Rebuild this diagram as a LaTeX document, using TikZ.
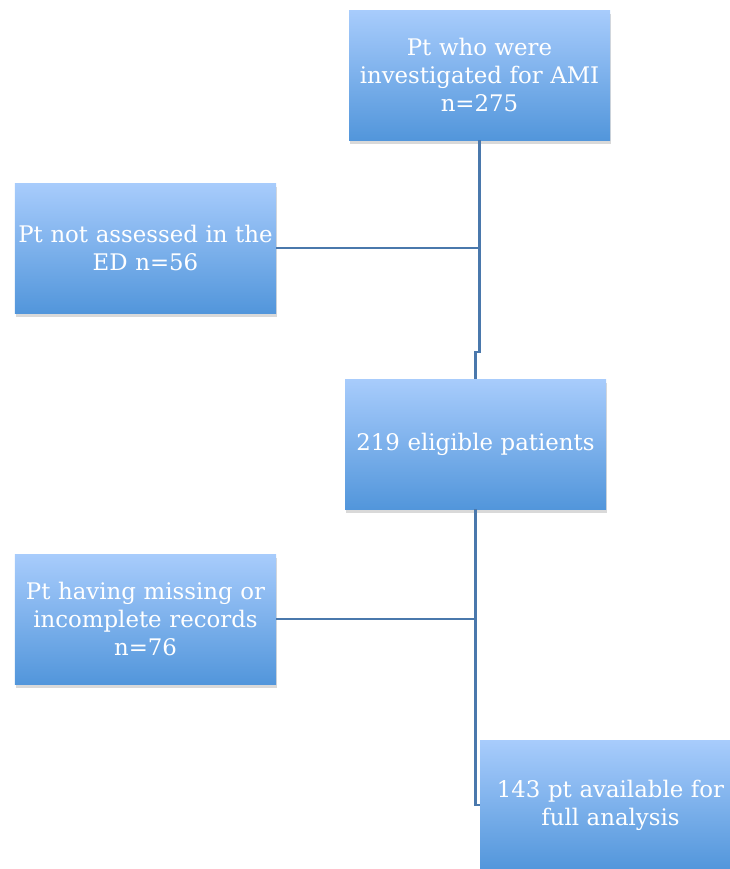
\documentclass[tikz,border=0pt]{standalone}
\usepackage{fontspec}
\setmainfont{DejaVu Serif}
\usetikzlibrary{shadows}

\definecolor{boxtop}{RGB}{168,204,252}
\definecolor{boxbottom}{RGB}{82,150,219}
\definecolor{linkblue}{RGB}{74,120,172}

\begin{document}
\begin{tikzpicture}[x=0.3mm,y=-0.3mm,
	flowbox/.style={rectangle,top color=boxtop,bottom color=boxbottom,
		minimum width=78.3mm,minimum height=39mm,inner sep=0pt,
		text width=77mm,align=center,text=white,
		font=\fontsize{19.5}{23.8}\selectfont,
		drop shadow={shadow xshift=0.4mm,shadow yshift=-1.2mm,opacity=0.3}},
	link/.style={draw=linkblue,line width=0.7mm}]
		
		%Page size
		\clip (0,0) rectangle (730,869);
		
		%Placing boxes
		\node[flowbox] (investigated) at (479.5,75) {Pt who were\\investigated for AMI\\n=275};
		\node[flowbox] (notassessed) at (145.5,248) {Pt not assessed in the\\ED n=56};
		\node[flowbox] (eligible) at (475.5,444) {219 eligible patients};
		\node[flowbox] (missing) at (145.5,619) {Pt having missing or\\incomplete records\\n=76};
		\node[flowbox] (analysis) at (610.5,805) {143 pt available for\\full analysis};
		
		%Drawing connectors
		\draw[link] (investigated.south) -- (investigated.south |- 0,352) -| (eligible.north);
		\draw[link] (notassessed.east) -- (notassessed.east -| investigated.south);
		\draw[link] (eligible.south) |- (analysis.west);
		\draw[link] (missing.east) -- (missing.east -| eligible.south);
	\end{tikzpicture}
\end{document}
